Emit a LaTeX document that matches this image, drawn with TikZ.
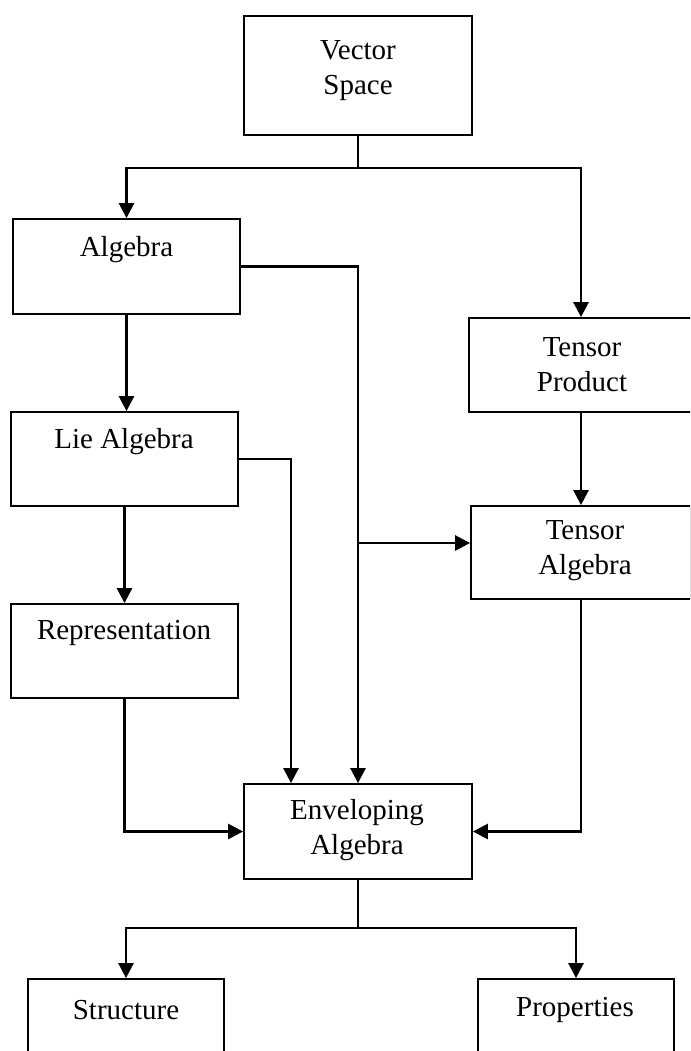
\documentclass[tikz,border=0pt]{standalone}
\usepackage{fontspec}
\setmainfont{Liberation Serif}
\usetikzlibrary{arrows.meta}
\begin{document}
\begin{tikzpicture}[x=1pt,y=-1pt,
  box/.style={draw, line width=1.8pt, inner sep=0pt, rectangle},
  lbl/.style={align=center, inner sep=0pt, font=\fontsize{29}{35}\selectfont},
  conn/.style={line width=2.2pt},
  arr/.style={line width=2.6pt, -{Triangle[length=15pt,width=15pt]}}]
\useasboundingbox (0,0) rectangle (690,1051);
\clip (0,0) rectangle (690,1051);
% boxes
\node[box, minimum width=228pt, minimum height=119pt] (vs) at (358,75.5) {};
\node[box, minimum width=227pt, minimum height=95pt] (alg) at (126.5,266.5) {};
\node[box, minimum width=224pt, minimum height=94pt] (tp) at (581,365) {};
\node[box, minimum width=227pt, minimum height=94pt] (lie) at (124.5,459) {};
\node[box, minimum width=220pt, minimum height=93pt] (ta) at (581,552.5) {};
\node[box, minimum width=227pt, minimum height=94pt] (rep) at (124.5,651) {};
\node[box, minimum width=228pt, minimum height=95pt] (env) at (358,831.5) {};
\node[box, minimum width=196pt, minimum height=120pt] (str) at (126,1039) {};
\node[box, minimum width=196pt, minimum height=120pt] (prop) at (576,1039) {};
% labels
\node[lbl] (vs-t) at (358,70.5) {Vector\\Space};
\node[lbl] (alg-t) at (126.5,250) {Algebra};
\node[lbl] (tp-t) at (582,364.5) {Tensor\\Product};
\node[lbl] (lie-t) at (124,442) {Lie Algebra};
\node[lbl] (ta-t) at (585,551) {Tensor\\Algebra};
\node[lbl] (rep-t) at (124,633) {Representation};
\node[lbl] (env-t) at (357,830.5) {Enveloping\\Algebra};
\node[lbl] (str-t) at (126,1010) {Structure};
\node[lbl] (prop-t) at (575,1010) {Properties};
% connectors
\coordinate (j1) at (358,168);
\draw[conn] (vs.south) -- (j1);
\draw[arr] (j1) -| (alg.north);
\draw[arr] (j1) -| (tp.north);
\draw[arr] (alg.south) -- (alg.south |- lie.north);
\draw[arr] (lie.south) -- (lie.south |- rep.north);
\draw[arr] (tp.south) -- (ta.north);
\draw[arr] (alg.east) -| (env.north);
\coordinate (j2) at (358,543);
\draw[arr] (j2) -- (j2 -| ta.west);
\draw[arr] (lie.east) -| ([xshift=-67pt]env.north);
\draw[arr] (rep.south) |- (env.west);
\draw[arr] (ta.south) |- (env.east);
\coordinate (j3) at (358,928);
\draw[conn] (env.south) -- (j3);
\draw[arr] (j3) -| (str.north);
\draw[arr] (j3) -| (prop.north);
\end{tikzpicture}
\end{document}
